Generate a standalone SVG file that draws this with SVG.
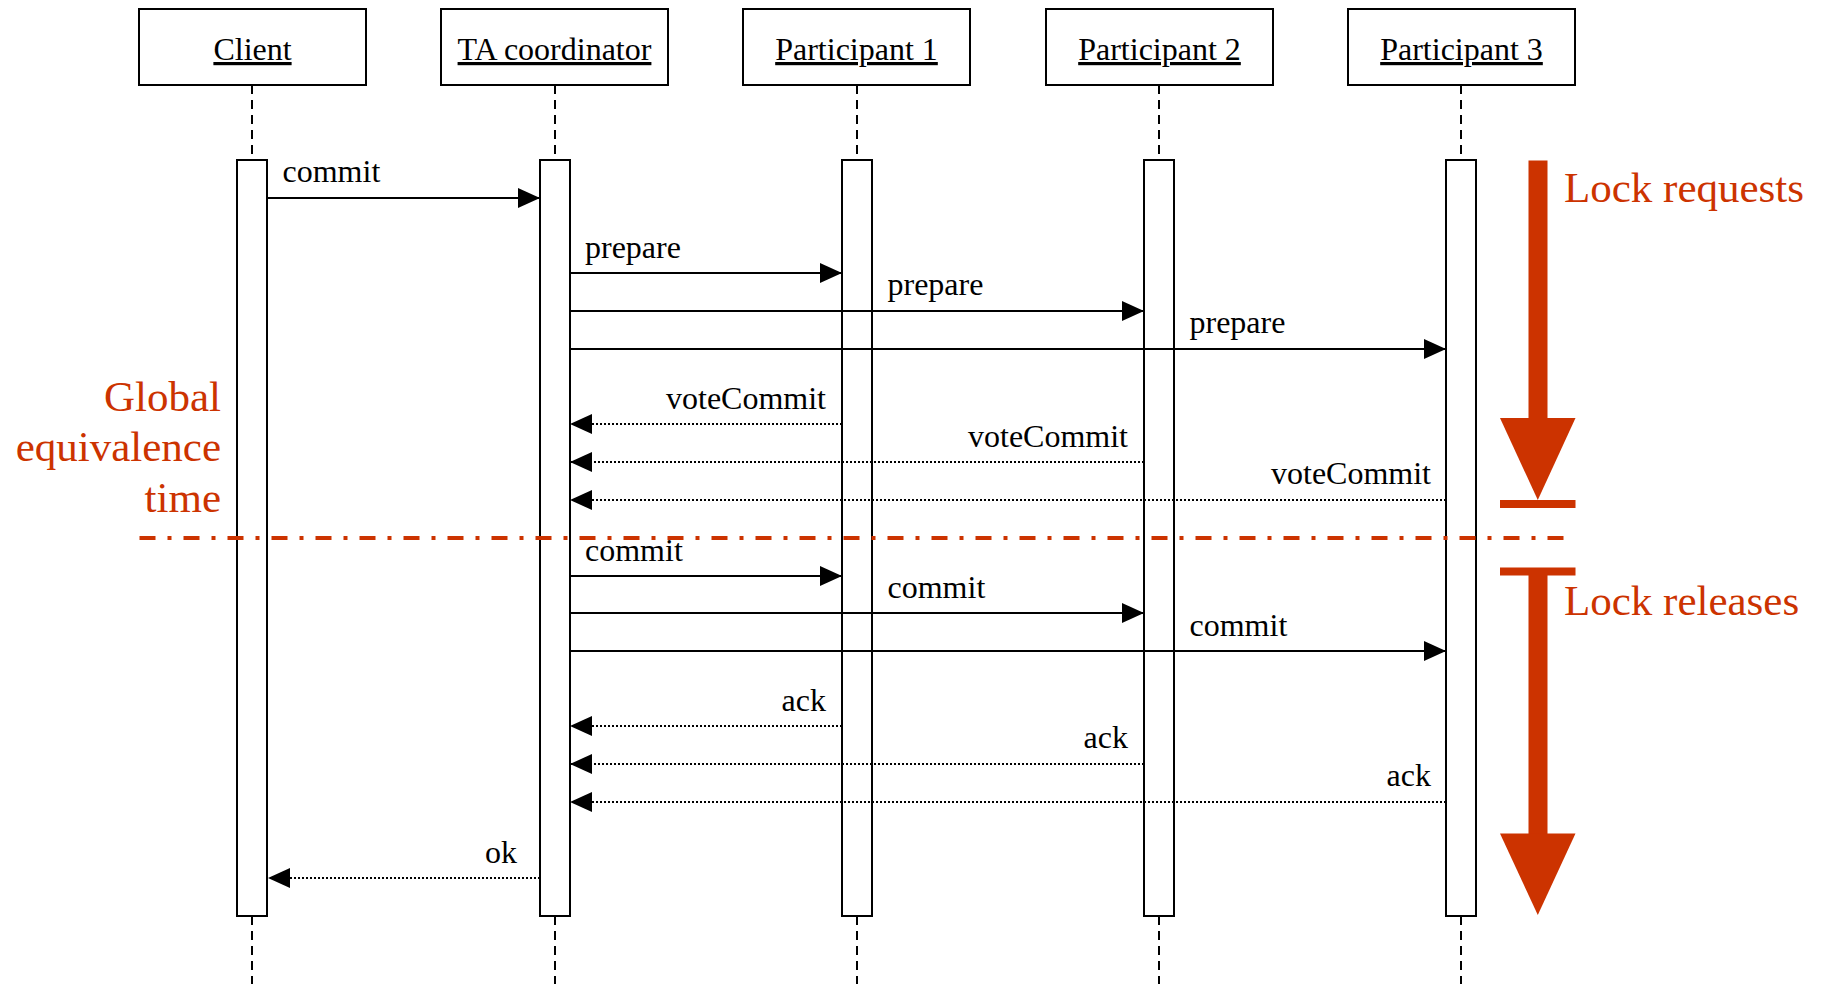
<svg xmlns="http://www.w3.org/2000/svg" width="1823" height="984" viewBox="0 0 1823 984">
  <style>
    text { font-family: "Liberation Serif", "Times New Roman", serif; font-size: 32px; fill: #000; }
    .name { text-anchor: middle; text-decoration: underline; }
    .end { text-anchor: end; }
    .note { font-size: 43px; fill: #CC3300; }
    .box { fill: #fff; stroke: #000; stroke-width: 2; }
    .life { stroke: #000; stroke-width: 2; stroke-dasharray: 9 6; fill: none; }
    .bar { fill: #fff; stroke: #000; stroke-width: 2; }
    .call { stroke: #000; stroke-width: 2; fill: none; marker-end: url(#head); }
    .reply { stroke: #000; stroke-width: 2; stroke-dasharray: 2 2; fill: none; marker-end: url(#head); }
    .red { fill: #CC3300; }
  </style>
  <defs>
    <marker id="head" markerUnits="userSpaceOnUse" markerWidth="22" markerHeight="20" refX="22" refY="10" orient="auto" viewBox="0 0 22 20">
      <path d="M0,0 L22,10 L0,20 Z" fill="#000"/>
    </marker>
  </defs>
  <rect width="1823" height="984" fill="#fff"/>

  <!-- lifelines -->
  <g id="lifelines">
    <path class="life" d="M252,85 V160 M252,916 V984"/>
    <path class="life" d="M555,85 V160 M555,916 V984"/>
    <path class="life" d="M857,85 V160 M857,916 V984"/>
    <path class="life" d="M1159,85 V160 M1159,916 V984"/>
    <path class="life" d="M1461,85 V160 M1461,916 V984"/>
  </g>

  <!-- participants -->
  <g id="client">
    <rect class="box" x="139" y="9" width="227" height="76"/>
    <text class="name" x="252.5" y="60">Client</text>
    <rect class="bar" x="237" y="160" width="30" height="756"/>
  </g>
  <g id="coordinator">
    <rect class="box" x="441" y="9" width="227" height="76"/>
    <text class="name" x="554.5" y="60">TA coordinator</text>
    <rect class="bar" x="540" y="160" width="30" height="756"/>
  </g>
  <g id="participant1">
    <rect class="box" x="743" y="9" width="227" height="76"/>
    <text class="name" x="856.5" y="60">Participant 1</text>
    <rect class="bar" x="842" y="160" width="30" height="756"/>
  </g>
  <g id="participant2">
    <rect class="box" x="1046" y="9" width="227" height="76"/>
    <text class="name" x="1159.5" y="60">Participant 2</text>
    <rect class="bar" x="1144" y="160" width="30" height="756"/>
  </g>
  <g id="participant3">
    <rect class="box" x="1348" y="9" width="227" height="76"/>
    <text class="name" x="1461.5" y="60">Participant 3</text>
    <rect class="bar" x="1446" y="160" width="30" height="756"/>
  </g>

  <!-- messages -->
  <g id="connectors">
    <line class="call" x1="268" y1="198" x2="540" y2="198"/>
    <text x="282.5" y="182">commit</text>

    <line class="call" x1="570" y1="273" x2="842" y2="273"/>
    <text x="585" y="257.5">prepare</text>
    <line class="call" x1="570" y1="311" x2="1144" y2="311"/>
    <text x="887.5" y="295">prepare</text>
    <line class="call" x1="570" y1="349" x2="1446" y2="349"/>
    <text x="1189.5" y="333">prepare</text>

    <line class="reply" x1="842" y1="424" x2="570" y2="424"/>
    <text class="end" x="826" y="408.5">voteCommit</text>
    <line class="reply" x1="1144" y1="462" x2="570" y2="462"/>
    <text class="end" x="1128" y="446.5">voteCommit</text>
    <line class="reply" x1="1446" y1="500" x2="570" y2="500"/>
    <text class="end" x="1431" y="484">voteCommit</text>

    <line class="call" x1="570" y1="576" x2="842" y2="576"/>
    <text x="585" y="560.5">commit</text>
    <line class="call" x1="570" y1="613" x2="1144" y2="613"/>
    <text x="887.5" y="598">commit</text>
    <line class="call" x1="570" y1="651" x2="1446" y2="651"/>
    <text x="1189.5" y="636">commit</text>

    <line class="reply" x1="842" y1="726" x2="570" y2="726"/>
    <text class="end" x="826" y="711">ack</text>
    <line class="reply" x1="1144" y1="764" x2="570" y2="764"/>
    <text class="end" x="1128" y="748">ack</text>
    <line class="reply" x1="1446" y1="802" x2="570" y2="802"/>
    <text class="end" x="1431" y="786">ack</text>

    <line class="reply" x1="540" y1="878" x2="268" y2="878"/>
    <text class="end" x="517" y="862.5">ok</text>
  </g>

  <!-- global equivalence time marker -->
  <g id="equivalence">
    <line x1="139.5" y1="538" x2="1563.5" y2="538" stroke="#CC3300" stroke-width="4" stroke-dasharray="16 12 4 12"/>
    <text class="note end" x="221" y="411">Global</text>
    <text class="note end" x="221" y="461">equivalence</text>
    <text class="note end" x="221" y="512">time</text>
  </g>

  <!-- lock phases -->
  <g id="lock-requests">
    <rect class="red" x="1528.5" y="160.5" width="19" height="258"/>
    <polygon class="red" points="1500,418 1575.5,418 1537.8,500"/>
    <rect class="red" x="1500" y="500" width="75.5" height="8"/>
    <text class="note" x="1564" y="202">Lock requests</text>
  </g>
  <g id="lock-releases">
    <rect class="red" x="1500" y="567.5" width="75.5" height="8"/>
    <rect class="red" x="1528.5" y="575" width="19" height="259"/>
    <polygon class="red" points="1500,833.5 1575.5,833.5 1537.8,915"/>
    <text class="note" x="1564" y="615">Lock releases</text>
  </g>
</svg>
